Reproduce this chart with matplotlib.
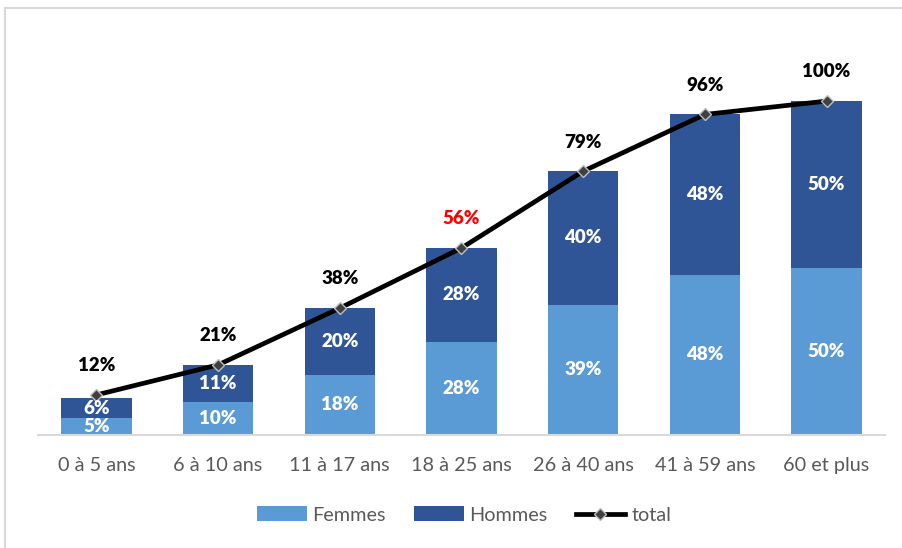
import matplotlib.pyplot as plt
import matplotlib.patches as patches
import numpy as np

categories = ['0 à 5 ans', '6 à 10 ans', '11 à 17 ans', '18 à 25 ans', '26 à 40 ans', '41 à 59 ans', '60 et plus']
femmes = [5, 10, 18, 28, 39, 48, 50]
hommes = [6, 11, 20, 28, 40, 48, 50]
total = [12, 21, 38, 56, 79, 96, 100]
highlight = '18 à 25 ans'

plt.rcParams['font.family'] = ['Lato', 'DejaVu Sans']

fig = plt.figure(figsize=(9.02, 5.48), dpi=100)
ax = fig.add_axes([38/902, 1-435/548, (885-38)/902, 384/548])

x = np.arange(len(categories))
w = 0.58
c_f = '#5B9BD5'
c_h = '#2F5597'
b1 = ax.bar(x, femmes, w, color=c_f, label='Femmes', zorder=2)
b2 = ax.bar(x, hommes, w, bottom=femmes, color=c_h, label='Hommes', zorder=2)
ln, = ax.plot(x, total, color='black', lw=3.4, marker='D', markersize=6.5,
              markerfacecolor='#404040', markeredgecolor='#BFBFBF', markeredgewidth=1,
              label='total', zorder=3)

for i in range(len(x)):
    ax.text(x[i], femmes[i]/2, f'{femmes[i]}%', ha='center', va='center',
            color='white', fontsize=13.5, fontweight='heavy', zorder=4)
    ax.text(x[i], femmes[i] + hommes[i]/2, f'{hommes[i]}%', ha='center', va='center',
            color='white', fontsize=13.5, fontweight='heavy', zorder=4)
    col = 'red' if categories[i] == highlight else 'black'
    ax.annotate(f'{total[i]}%', (x[i], total[i]), xytext=(0, 21), textcoords='offset points',
                ha='center', va='center', color=col, fontsize=13.5, fontweight='heavy')

ax.set_xlim(-0.48, 6.48)
ax.set_ylim(0, 115)
ax.set_yticks([])
ax.set_xticks(x)
ax.set_xticklabels(categories, fontsize=14.3, color='#595959')
ax.tick_params(axis='x', length=0, pad=16)
for s in ['top', 'right', 'left']:
    ax.spines[s].set_visible(False)
ax.spines['bottom'].set_color('#D9D9D9')
ax.spines['bottom'].set_linewidth(1.5)

leg = fig.legend([b1, b2, ln], ['Femmes', 'Hommes', 'total'], loc='center',
                 bbox_to_anchor=(464/902, 1-515/548), ncol=3, frameon=False,
                 fontsize=14.3, handlelength=2.5, handleheight=0.8, columnspacing=1.4, handletextpad=0.3)
for t in leg.get_texts():
    t.set_color('#595959')

fig.patches.append(patches.Rectangle((4.5/902, -0.1), 1.2, 1.1 - 8.5/548, transform=fig.transFigure,
                                     fill=False, edgecolor='#D9D9D9', lw=1.5))

fig.savefig('out.png', dpi=100)
